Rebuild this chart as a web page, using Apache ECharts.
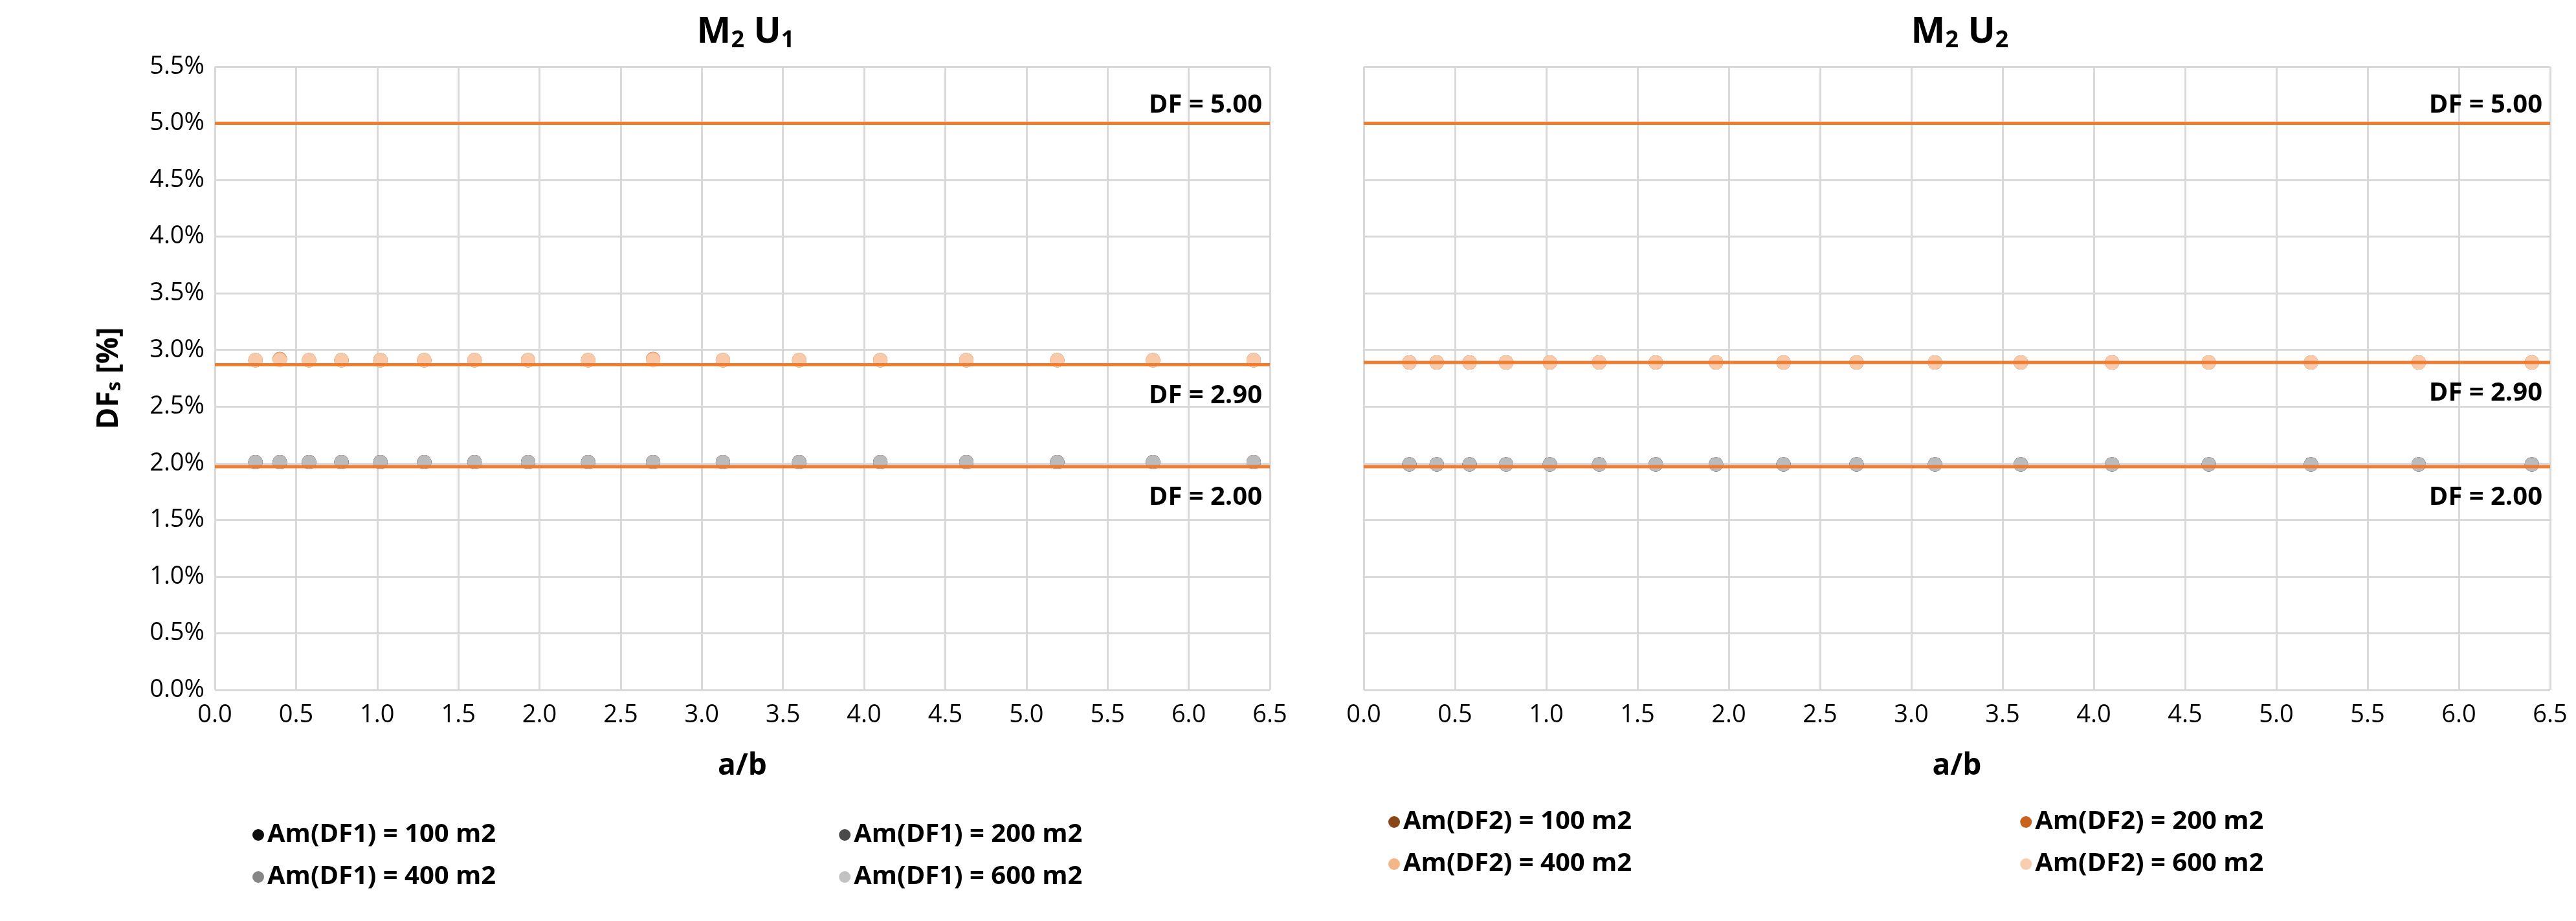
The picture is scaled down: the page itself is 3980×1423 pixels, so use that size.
<!DOCTYPE html>
<html>
<head>
<meta charset="utf-8">
<script src="https://cdn.jsdelivr.net/npm/echarts@6/dist/echarts.min.js"></script>
<style>html,body{margin:0;background:#fff}#main{width:3980px;height:1423px}</style>
</head>
<body>
<div id="main"></div>
<script>
// a/b values
var ratios = [0.25, 0.4, 0.58, 0.78, 1.02, 1.29, 1.6, 1.93, 2.3, 2.7, 3.13, 3.6, 4.1, 4.63, 5.19, 5.78, 6.4];
// DFs [%] per room area, panel U1
var u1_df1_100 = [2.01, 2.01, 2.01, 2.01, 2.01, 2.01, 2.01, 2.01, 2.01, 2.01, 2.01, 2.01, 2.01, 2.01, 2.01, 2.01, 2.01];
var u1_df1_200 = [2.01, 2.01, 2.01, 2.01, 2.01, 2.01, 2.01, 2.01, 2.01, 2.01, 2.01, 2.01, 2.01, 2.01, 2.01, 2.01, 2.01];
var u1_df1_400 = [2.01, 2.01, 2.01, 2.01, 2.01, 2.01, 2.01, 2.01, 2.01, 2.01, 2.01, 2.01, 2.01, 2.01, 2.01, 2.01, 2.01];
var u1_df1_600 = [2.01, 2.01, 2.01, 2.01, 2.01, 2.01, 2.01, 2.01, 2.01, 2.01, 2.01, 2.01, 2.01, 2.01, 2.01, 2.01, 2.01];
var u1_df2_100 = [2.91, 2.92, 2.91, 2.91, 2.91, 2.91, 2.91, 2.91, 2.91, 2.92, 2.91, 2.91, 2.91, 2.91, 2.91, 2.91, 2.91];
var u1_df2_200 = [2.91, 2.92, 2.91, 2.91, 2.91, 2.91, 2.91, 2.91, 2.91, 2.92, 2.91, 2.91, 2.91, 2.91, 2.91, 2.91, 2.91];
var u1_df2_400 = [2.91, 2.92, 2.91, 2.91, 2.91, 2.91, 2.91, 2.91, 2.91, 2.92, 2.91, 2.91, 2.91, 2.91, 2.91, 2.91, 2.91];
var u1_df2_600 = [2.91, 2.91, 2.91, 2.91, 2.91, 2.91, 2.91, 2.91, 2.91, 2.91, 2.91, 2.91, 2.91, 2.91, 2.91, 2.91, 2.91];
// panel U2
var u2_df1 = [1.99, 1.99, 1.99, 1.99, 1.99, 1.99, 1.99, 1.99, 1.99, 1.99, 1.99, 1.99, 1.99, 1.99, 1.99, 1.99, 1.99];
var u2_df2 = [2.89, 2.89, 2.89, 2.89, 2.89, 2.89, 2.89, 2.89, 2.89, 2.89, 2.89, 2.89, 2.89, 2.89, 2.89, 2.89, 2.89];
// reference lines
var refU1 = [5.0, 2.87, 1.97];
var refU2 = [5.0, 2.89, 1.97];
var refLabels = ["DF = 5.00", "DF = 2.90", "DF = 2.00"];
var refLabelUp = [true, false, false];

var greys = ["#000000", "#404040", "#808080", "#bfbfbf"];
var oranges = ["#843c0c", "#c55a11", "#f4b183", "#f8cbad"];
var names1 = ["Am(DF1) = 100 m2", "Am(DF1) = 200 m2", "Am(DF1) = 400 m2", "Am(DF1) = 600 m2"];
var names2 = ["Am(DF2) = 100 m2", "Am(DF2) = 200 m2", "Am(DF2) = 400 m2", "Am(DF2) = 600 m2"];

var font = "'Open Sans', 'Liberation Sans', sans-serif";
var chart = echarts.init(document.getElementById("main"));

function pts(vals) {
  return ratios.map(function (x, i) { return [x, vals[i]]; });
}
function scatter(name, vals, color, idx) {
  return {
    name: name, type: "scatter", xAxisIndex: idx, yAxisIndex: idx,
    data: pts(vals), symbolSize: 22, itemStyle: { color: color, opacity: 0.95 }, z: 3
  };
}
function refLine(v, k, idx) {
  return {
    type: "line", xAxisIndex: idx, yAxisIndex: idx, symbol: "none", silent: true,
    lineStyle: { color: "#ed7d31", width: 5 }, z: 4,
    data: [[0, v], [6.5, v]],
    endLabel: {
      show: true, formatter: refLabels[k], align: "right", verticalAlign: "middle",
      offset: [-20, refLabelUp[k] ? -28 : 48],
      fontSize: 40, fontWeight: "bold", color: "#000", fontFamily: font
    }
  };
}

var series = [];
var u1df1 = [u1_df1_100, u1_df1_200, u1_df1_400, u1_df1_600];
var u1df2 = [u1_df2_100, u1_df2_200, u1_df2_400, u1_df2_600];
for (var i = 0; i < 4; i++) series.push(scatter(names1[i], u1df1[i], greys[i], 0));
for (var i = 0; i < 4; i++) series.push(scatter(names2[i] + " ", u1df2[i], oranges[i], 0));
for (var i = 0; i < 4; i++) series.push(scatter(names1[i] + " ", u2_df1, greys[i], 1));
for (var i = 0; i < 4; i++) series.push(scatter(names2[i], u2_df2, oranges[i], 1));
refU1.forEach(function (v, k) { series.push(refLine(v, k, 0)); });
refU2.forEach(function (v, k) { series.push(refLine(v, k, 1)); });

function xAxis(idx) {
  return {
    type: "value", gridIndex: idx, min: 0, max: 6.5, interval: 0.5,
    name: "a/b", nameLocation: "middle", nameGap: 95,
    nameTextStyle: { fontSize: 46, fontWeight: "bold", color: "#000", fontFamily: font },
    axisLine: { show: false }, axisTick: { show: false },
    axisLabel: { fontSize: 38, color: "#000", fontFamily: font, margin: 20, formatter: function (v) { return v.toFixed(1); } },
    splitLine: { show: true, lineStyle: { color: "#d9d9d9", width: 3 } }
  };
}
function yAxis(idx) {
  return {
    type: "value", gridIndex: idx, min: 0, max: 5.5, interval: 0.5,
    name: idx === 0 ? "{a|DF}{s|s}{a| [%]}" : "", nameLocation: "middle", nameGap: 140, nameRotate: 90,
    nameTextStyle: { rich: {
      a: { fontSize: 46, fontWeight: "bold", color: "#000", fontFamily: font },
      s: { fontSize: 30, fontWeight: "bold", color: "#000", fontFamily: font, verticalAlign: "bottom", padding: [16, 0, 0, 0] }
    } },
    axisLine: { show: false }, axisTick: { show: false },
    axisLabel: { show: idx === 0, fontSize: 38, color: "#000", fontFamily: font, margin: 16,
      formatter: function (v) { return v.toFixed(1) + "%"; } },
    splitLine: { show: true, lineStyle: { color: "#d9d9d9", width: 3 } }
  };
}
function title(sub, left) {
  return {
    text: "{a|M}{s|2}{a| U}{s|" + sub + "}", left: left, top: 14, textAlign: "center",
    textStyle: { rich: {
      a: { fontSize: 56, fontWeight: "bold", color: "#000", fontFamily: font },
      s: { fontSize: 36, fontWeight: "bold", color: "#000", fontFamily: font, verticalAlign: "bottom", padding: [26, 0, 0, 0] }
    } }
  };
}
function legend(names, left, top, gap) {
  return {
    data: names, left: left, top: top, orient: "horizontal", width: 1800, itemGap: gap,
    icon: "circle", itemWidth: 18, itemHeight: 18, selectedMode: false,
    textStyle: { fontSize: 40, fontWeight: "bold", color: "#000", fontFamily: font },
    formatter: function (n) { return n.trim(); }
  };
}

chart.setOption({
  backgroundColor: "#fff",
  animation: false,
  title: [title("1", 1147), title("2", 3023)],
  grid: [
    { left: 332, right: 3980 - 1962, top: 103, bottom: 1423 - 1066 },
    { left: 2107, right: 3980 - 3940, top: 103, bottom: 1423 - 1066 }
  ],
  xAxis: [xAxis(0), xAxis(1)],
  yAxis: [yAxis(0), yAxis(1)],
  legend: [
    legend([names1[0], names1[1]], 385, 1265, 530),
    legend([names1[2], names1[3]], 385, 1330, 530),
    legend([names2[0], names2[1]], 2140, 1245, 600),
    legend([names2[2], names2[3]], 2140, 1310, 600)
  ],
  series: series
});
</script>
</body>
</html>
